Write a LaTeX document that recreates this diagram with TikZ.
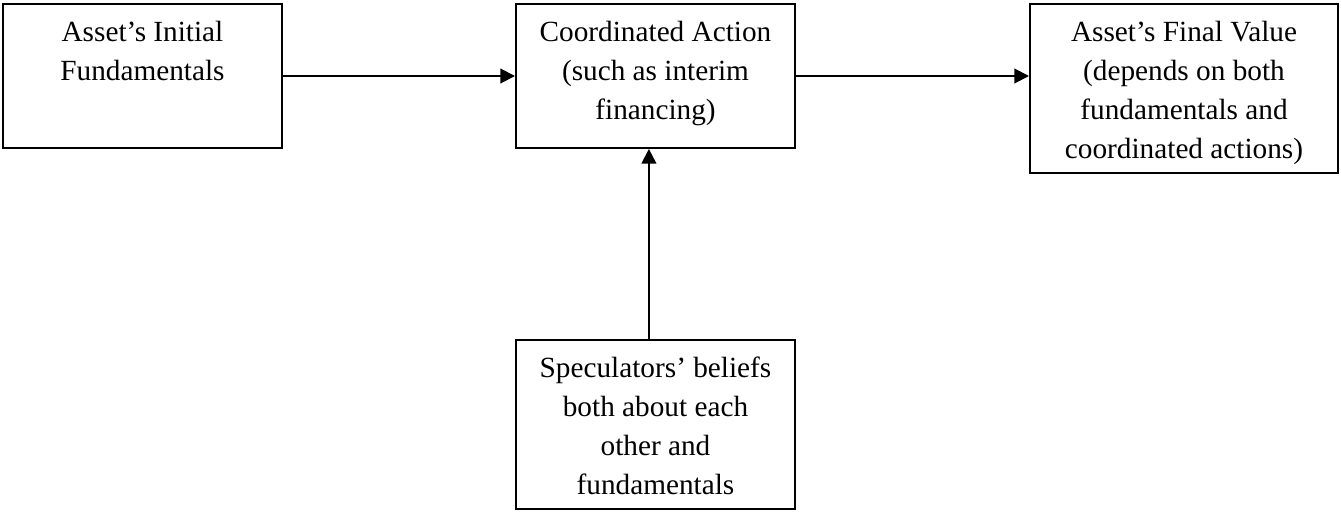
\documentclass[tikz,border=0pt]{standalone}
\usepackage{fontspec}
\setmainfont{Liberation Serif}
\usetikzlibrary{arrows.meta}

\newcommand{\boxtext}[3]{\parbox[c][#2][t]{#1}{\centering\fontsize{12}{16}\selectfont\rule{0pt}{15.5pt}#3}}

\begin{document}
\begin{tikzpicture}[x=0.41pt, y=-0.41pt]
\tikzset{box/.style={draw, line width=0.8pt, inner sep=0pt}}
\tikzset{arr/.style={-{Triangle[length=6pt,width=6pt]}, line width=0.8pt}}
        \useasboundingbox (0,0) rectangle (1341,511);

        \node[box] (init) at (142.5,76) {\boxtext{114.4pt}{59pt}{Asset’s Initial\\Fundamentals}};
        \node[box] (action) at (655.5,76) {\boxtext{114.4pt}{59pt}{Coordinated Action\\(such as interim\\financing)}};
        \node[box] (final) at (1184,88.5) {\boxtext{126.3pt}{69.3pt}{Asset’s Final Value\\(depends on both\\fundamentals and\\coordinated actions)}};
        \node[box] (beliefs) at (655.5,424.5) {\boxtext{114.4pt}{69.3pt}{Speculators’ beliefs\\both about each\\other and\\fundamentals}};

        \draw[arr] (init.east) -- (action.west);
        \draw[arr] (action.east) -- (action.east -| final.west);
        \draw[arr] ([xshift=-2.7pt]beliefs.north) -- ([xshift=-2.7pt]action.south);
\end{tikzpicture}
\end{document}
